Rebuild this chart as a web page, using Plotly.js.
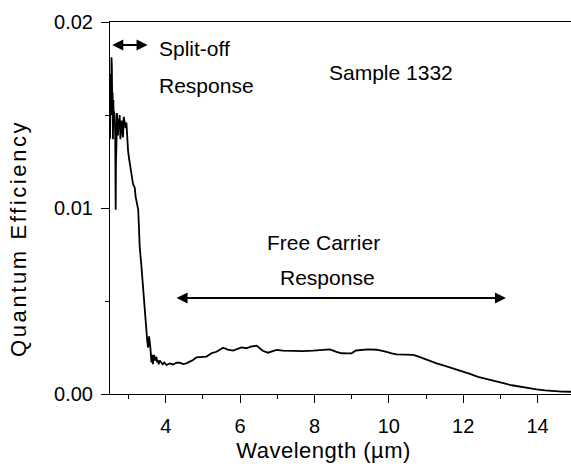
<!DOCTYPE html>
<html>
<head>
<meta charset="utf-8">
<script src="https://cdn.plot.ly/plotly-3.0.1.min.js"></script>
<style>
html,body{margin:0;padding:0;background:#fff;}
#chart{width:571px;height:466px;}
</style>
</head>
<body>
<div id="chart"></div>
<script>
// Wavelength (µm)
var wavelength = [2.50, 2.51, 2.52, 2.53, 2.54, 2.545, 2.55, 2.56, 2.57, 2.58, 2.59, 2.60, 2.61, 2.627, 2.64, 2.653, 2.66, 2.67, 2.688, 2.70, 2.715, 2.73, 2.742, 2.76, 2.78, 2.80, 2.815, 2.83, 2.85, 2.87, 2.896, 2.92, 2.941, 2.96, 2.985, 3.01, 3.03, 3.05, 3.076, 3.10, 3.119, 3.14, 3.165, 3.19, 3.211, 3.235, 3.259, 3.28, 3.299, 3.34, 3.372, 3.40, 3.434, 3.46, 3.48, 3.50, 3.523, 3.54, 3.55, 3.569, 3.58, 3.59, 3.60, 3.614, 3.63, 3.641, 3.655, 3.668, 3.685, 3.703, 3.72, 3.749, 3.77, 3.792, 3.81, 3.838, 3.88, 3.919, 3.96, 4.018, 4.107, 4.196, 4.295, 4.376, 4.465, 4.557, 4.645, 4.734, 4.826, 4.941, 5.095, 5.238, 5.364, 5.542, 5.668, 5.811, 5.937, 6.037, 6.172, 6.287, 6.441, 6.530, 6.618, 6.753, 6.853, 6.979, 7.149, 7.426, 7.687, 7.964, 8.198, 8.414, 8.594, 8.729, 8.871, 8.998, 9.114, 9.221, 9.437, 9.671, 9.805, 9.940, 10.075, 10.209, 10.433, 10.656, 10.783, 10.925, 11.106, 11.286, 11.510, 11.733, 11.959, 12.182, 12.398, 12.632, 12.855, 13.079, 13.305, 13.528, 13.752, 13.978, 14.201, 14.425, 14.659, 14.90];
// Quantum efficiency
var quantumEfficiency = [0.0137, 0.0160, 0.0172, 0.0150, 0.0181, 0.0165, 0.0176, 0.0155, 0.0162, 0.0137, 0.0158, 0.0145, 0.0152, 0.0149, 0.0140, 0.0099, 0.0125, 0.0131, 0.0151, 0.0142, 0.0139, 0.0148, 0.0144, 0.0150, 0.0137, 0.0145, 0.0147, 0.0141, 0.0138, 0.0149, 0.0146, 0.0143, 0.0146, 0.0138, 0.0131, 0.0127, 0.0124, 0.0123, 0.0120, 0.0116, 0.0113, 0.0112, 0.0111, 0.0106, 0.0103, 0.0101, 0.0099, 0.0089, 0.0079, 0.0070, 0.0061, 0.0052, 0.0042, 0.0036, 0.0033, 0.0029, 0.0025, 0.0027, 0.0031, 0.0029, 0.0026, 0.0024, 0.0020, 0.0017, 0.0021, 0.0020, 0.0016, 0.0018, 0.0021, 0.0019, 0.0018, 0.0020, 0.0017, 0.0018, 0.0016, 0.0018, 0.0017, 0.0016, 0.0017, 0.00156, 0.00164, 0.00159, 0.00169, 0.00168, 0.00161, 0.00165, 0.00174, 0.00183, 0.00197, 0.00199, 0.00201, 0.00220, 0.00227, 0.00249, 0.00239, 0.00233, 0.00245, 0.00251, 0.00246, 0.00255, 0.00260, 0.00247, 0.00231, 0.00222, 0.00228, 0.00237, 0.00233, 0.00231, 0.00231, 0.00233, 0.00237, 0.00240, 0.00227, 0.00219, 0.00218, 0.00219, 0.00234, 0.00237, 0.00240, 0.00238, 0.00234, 0.00227, 0.00219, 0.00213, 0.00212, 0.00210, 0.00202, 0.00192, 0.00175, 0.00165, 0.00151, 0.00138, 0.00123, 0.00108, 0.00092, 0.00079, 0.00067, 0.00058, 0.00047, 0.00039, 0.00031, 0.00025, 0.00020, 0.00016, 0.00013, 0.00012];

var xTickValues = [4, 6, 8, 10, 12, 14];
var xTickLabels = ['4', '6', '8', '10', '12', '14'];
var yTickValues = [0, 0.01, 0.02];
var yTickLabels = ['0.00', '0.01', '0.02'];

var labelTexts = ['Split-off', 'Response', 'Sample 1332', 'Free Carrier', 'Response'];
var labelX = [3.76, 3.76, 10.06, 8.23, 8.34];
var labelY = [0.0186, 0.01656, 0.01726, 0.00817, 0.00624];
var labelAnchor = ['left', 'left', 'center', 'center', 'center'];

// double-headed range arrows: [start, end] wavelength at a QE level
var arrowStartX = [2.52, 4.25];
var arrowEndX = [3.51, 13.15];
var arrowY = [0.01876, 0.00516];

var xTitle = 'Wavelength (µm)';
var yTitle = 'Quantum Efficiency';

var font = 'Liberation Sans, Arial, Helvetica, sans-serif';

var annotations = [];
for (var i = 0; i < labelTexts.length; i++) {
  annotations.push({
    x: labelX[i], y: labelY[i], xref: 'x', yref: 'y',
    text: labelTexts[i], showarrow: false,
    xanchor: labelAnchor[i], yanchor: 'middle',
    font: {family: font, size: 21, color: '#000'}
  });
}
for (var j = 0; j < arrowStartX.length; j++) {
  annotations.push({
    x: arrowEndX[j], y: arrowY[j], xref: 'x', yref: 'y',
    ax: arrowStartX[j], ay: arrowY[j], axref: 'x', ayref: 'y',
    text: '', showarrow: true, arrowside: 'end+start',
    arrowhead: 2, startarrowhead: 2, arrowsize: 1.1, startarrowsize: 1.1,
    arrowwidth: 2, arrowcolor: '#000'
  });
}
// axis titles
annotations.push({
  x: 0.463, y: -0.153, xref: 'paper', yref: 'paper',
  text: xTitle, showarrow: false,
  xanchor: 'center', yanchor: 'middle',
  font: {family: font, size: 22, color: '#000'}
});
annotations.push({
  x: -0.198, y: 0.417, xref: 'paper', yref: 'paper',
  text: yTitle, showarrow: false, textangle: -90,
  xanchor: 'center', yanchor: 'middle',
  font: {family: font, size: 22, color: '#000'}
});

var trace = {
  x: wavelength, y: quantumEfficiency,
  type: 'scatter', mode: 'lines',
  line: {color: '#000', width: 1.8},
  showlegend: false, hoverinfo: 'skip'
};

var layout = {
  width: 571, height: 466,
  margin: {l: 110, r: 0, t: 22, b: 72, pad: 0},
  paper_bgcolor: '#fff', plot_bgcolor: '#fff',
  showlegend: false,
  xaxis: {
    range: [2.5, 14.9], showgrid: false, zeroline: false,
    showline: true, linecolor: '#000', linewidth: 1, mirror: true,
    ticks: 'outside', ticklen: 8, tickwidth: 1, tickcolor: '#000',
    tickmode: 'array', tickvals: xTickValues, ticktext: xTickLabels,
    ticklabelstandoff: 6,
    tickfont: {family: font, size: 20, color: '#000'},
    minor: {dtick: 1, tick0: 3, ticks: 'outside', ticklen: 4, tickwidth: 1, tickcolor: '#000', showgrid: false}
  },
  yaxis: {
    range: [0, 0.02], showgrid: false, zeroline: false,
    showline: true, linecolor: '#000', linewidth: 1,
    ticks: 'outside', ticklen: 8, tickwidth: 1, tickcolor: '#000',
    tickmode: 'array', tickvals: yTickValues, ticktext: yTickLabels,
    ticklabelstandoff: 4,
    tickfont: {family: font, size: 20, color: '#000'},
    minor: {dtick: 0.005, tick0: 0, ticks: 'outside', ticklen: 4, tickwidth: 1, tickcolor: '#000', showgrid: false}
  },
  annotations: annotations
};

Plotly.newPlot('chart', [trace], layout, {staticPlot: true, displayModeBar: false}).then(function () {
  var texts = document.querySelectorAll('#chart .annotation-text');
  texts.forEach(function (t) {
    if (t.textContent === yTitle) { t.style.letterSpacing = '2.6px'; }
    if (t.textContent === xTitle) { t.style.letterSpacing = '0.5px'; }
  });
});
</script>
</body>
</html>
